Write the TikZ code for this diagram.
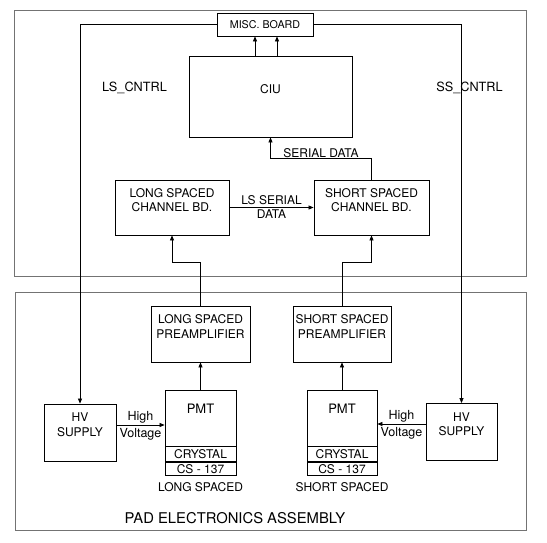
\documentclass[tikz,border=0pt]{standalone}
\usepackage{fontspec}
\setmainfont{TeX Gyre Heros}
\usetikzlibrary{arrows.meta,positioning}
\tikzset{>={Triangle[length=5pt,width=4pt]},
  box/.style={draw, inner sep=0pt, line width=0.8pt},
  housing/.style={draw=black!55, line width=0.8pt},
  txt/.style={font=\fontsize{12}{14.5}\selectfont, align=center, inner sep=0pt},
  wire/.style={line width=0.7pt}}

\begin{document}
\begin{tikzpicture}[x=1pt,y=-1pt]
  \useasboundingbox (0,0) rectangle (547,543);
  % housings
  \draw[housing] (14,10) rectangle (526,276);
  \draw[housing] (15,292) rectangle (526,530);

  % upper unit
  \node[box, minimum width=96pt, minimum height=23pt,
        font=\fontsize{10.7}{12}\selectfont] (misc) at (265,24.5) {MISC. BOARD};
  \node[box, minimum width=163pt, minimum height=81pt] (ciu) at (270.5,96.5) {};
  \node[txt] (ciutext) at ([yshift=7.5pt]ciu.center) {CIU};
  \node[txt, font=\fontsize{12.7}{15}\selectfont] (lsctrl) at (134.5,88) {LS\_CNTRL};
  \node[txt, font=\fontsize{12.7}{15}\selectfont] (ssctrl) at (469.5,88) {SS\_CNTRL};
  \node[box, minimum width=114pt, minimum height=55pt] (lsch) at (172,207.5) {};
  \node[txt] (lschtext) at ([yshift=7.5pt]lsch.center) {LONG SPACED\\CHANNEL BD.};
  \node[box, minimum width=115pt, minimum height=55pt] (ssch) at (371.5,207.5) {};
  \node[txt] (sschtext) at ([yshift=7.5pt]ssch.center) {SHORT SPACED\\CHANNEL BD.};

  % pad assembly
  \node[box, minimum width=99pt, minimum height=56pt] (lspre) at (200.5,334) {};
  \node[txt] (lspretext) at ([yshift=7.5pt]lspre.center) {LONG SPACED\\PREAMPLIFIER};
  \node[box, minimum width=98pt, minimum height=56pt] (sspre) at (342,334) {};
  \node[txt] (sspretext) at ([yshift=7.5pt]sspre.center) {SHORT SPACED\\PREAMPLIFIER};

  \node[box, minimum width=71pt, minimum height=56pt] (lpmt) at (200.5,418) {};
  \node[txt, font=\fontsize{13}{15}\selectfont] (lpmttext) at ([yshift=9pt]lpmt.center) {PMT};
  \node[box, txt, minimum width=71pt, minimum height=15pt, below=0pt of lpmt] (lcry) {CRYSTAL};
  \node[box, txt, minimum width=71pt, minimum height=13pt, below=0pt of lcry] (lcs) {CS - 137};
  \node[txt] (lslabel) at (200.5,487) {LONG SPACED};

  \node[box, minimum width=70pt, minimum height=56pt] (spmt) at (342,418) {};
  \node[txt, font=\fontsize{13}{15}\selectfont] (spmttext) at ([yshift=9pt]spmt.center) {PMT};
  \node[box, txt, minimum width=70pt, minimum height=15pt, below=0pt of spmt] (scry) {CRYSTAL};
  \node[box, txt, minimum width=70pt, minimum height=13pt, below=0pt of scry] (scs) {CS - 137};
  \node[txt] (sslabel) at (342,487) {SHORT SPACED};

  \node[box, minimum width=72pt, minimum height=57pt] (hvl) at (80,432.5) {};
  \node[txt] (hvltext) at ([yshift=8pt]hvl.center) {HV\\SUPPLY};
  \node[box, minimum width=71pt, minimum height=57pt] (hvr) at (461.5,432) {};
  \node[txt] (hvrtext) at ([yshift=8pt]hvr.center) {HV\\SUPPLY};

  \node[txt, font=\fontsize{14.8}{17}\selectfont] (pad) at (235,518) {PAD ELECTRONICS ASSEMBLY};

  % connections
  \coordinate (ciuout1) at ([xshift=-15.5pt]ciu.north);
  \coordinate (ciuout2) at ([xshift=6.5pt]ciu.north);
  \draw[wire,->] (ciuout1) -- (ciuout1 |- misc.south);
  \draw[wire,->] (ciuout2) -- (ciuout2 |- misc.south);
  \draw[wire,->] (misc.west) -| (hvl.north);
  \draw[wire,->] (misc.east) -| (hvr.north);
  \draw[wire,->] (ssch.north) -- ++(0,-21)
    -| node[txt, pos=0.25, above=1pt] {SERIAL DATA} (ciu.south);
  \draw[wire,->] (lsch) -- node[txt, above=2pt] {LS SERIAL}
    node[txt, below=2pt] {DATA} (ssch);
  \draw[wire,->] (lspre.north) -- ++(0,-43) -| (lsch.south);
  \draw[wire,->] (sspre.north) -- ++(0,-43) -| (ssch.south);
  \draw[wire,->] (lpmt) -- (lspre);
  \draw[wire,->] (spmt) -- (sspre);
  \coordinate (hvlout) at ([yshift=7.5pt]hvl.east);
  \coordinate (hvrout) at ([yshift=8pt]hvr.west);
  \draw[wire,->] (hvlout) -- node[txt, font=\fontsize{12.5}{15}\selectfont, above=1pt] {High}
    node[txt, font=\fontsize{12.5}{15}\selectfont, below=3pt] {Voltage} (hvlout -| lpmt.west);
  \draw[wire,->] (hvrout) -- node[txt, font=\fontsize{12.5}{15}\selectfont, above=1pt] {High}
    node[txt, font=\fontsize{12.5}{15}\selectfont, below=3pt] {Voltage} (hvrout -| spmt.east);
\end{tikzpicture}
\end{document}
